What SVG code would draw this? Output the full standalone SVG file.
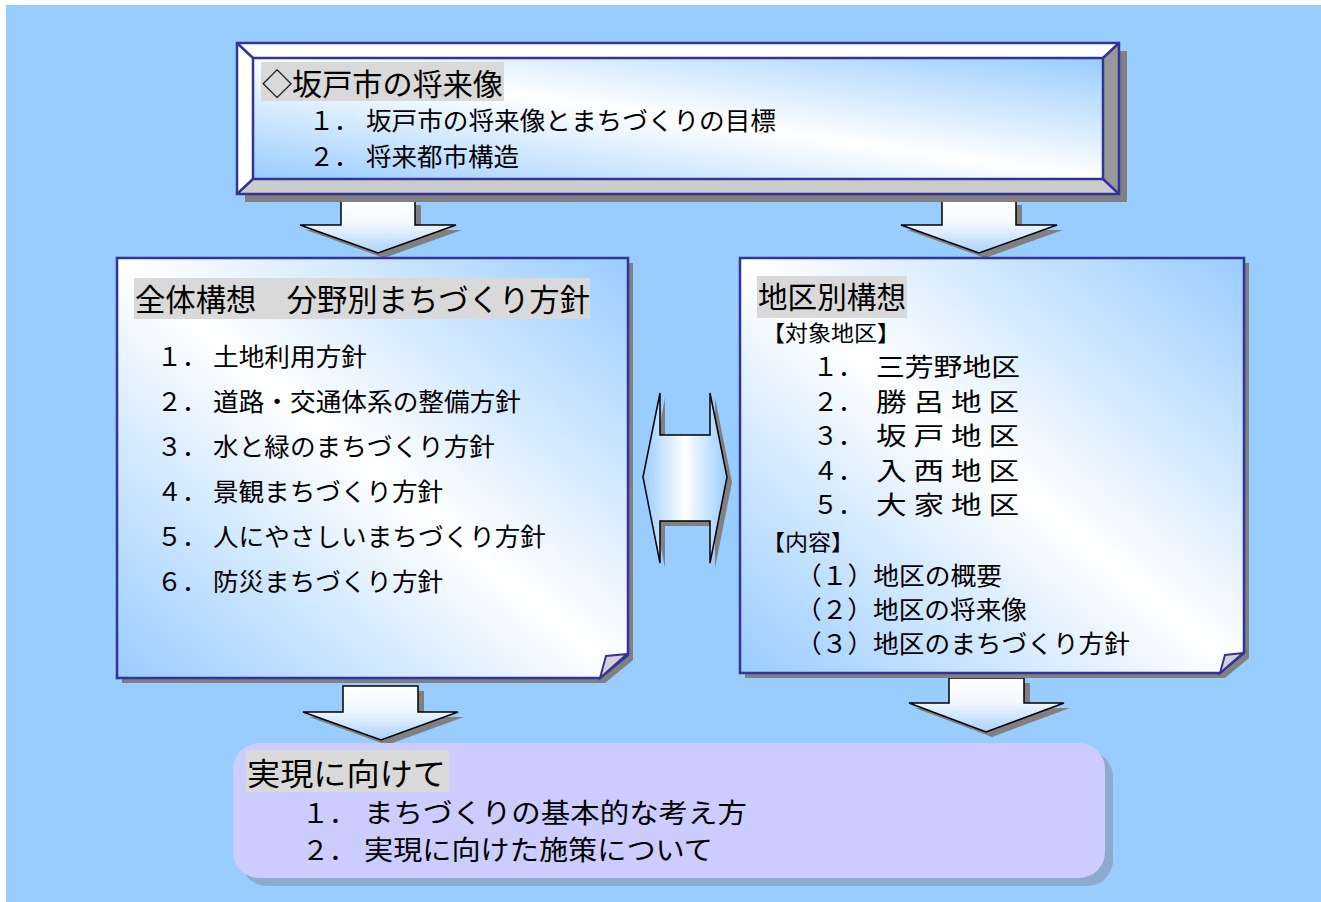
<svg xmlns="http://www.w3.org/2000/svg" width="1321" height="902" viewBox="0 0 1321 902">
<defs>
<linearGradient id="gFace" x1="0" y1="1" x2="1" y2="0">
<stop offset="0" stop-color="#99ccff"/>
<stop offset="0.5" stop-color="#ffffff"/>
<stop offset="1" stop-color="#99ccff"/>
</linearGradient>
<linearGradient id="gArrow" x1="0" y1="0" x2="0" y2="1">
<stop offset="0" stop-color="#ffffff"/>
<stop offset="0.45" stop-color="#f2f8ff"/>
<stop offset="1" stop-color="#a9d1fb"/>
</linearGradient>
<linearGradient id="gDouble" x1="0" y1="0" x2="1" y2="0">
<stop offset="0" stop-color="#99ccff"/>
<stop offset="0.5" stop-color="#ffffff"/>
<stop offset="1" stop-color="#99ccff"/>
</linearGradient>
<style>
text{font-family:"Noto Sans CJK JP","Noto Sans CJK SC",sans-serif;fill:#000}
.ttl{font-size:30px}
.it{font-size:25px}
.sm{font-size:22px}
.bt{font-size:27px}
.hl{fill:#d9d9d9}
.sh{fill:#808080}
.edge{fill:none;stroke:#333399;stroke-width:2.5;stroke-linejoin:miter}
.card{fill:url(#gFace);stroke:#333399;stroke-width:2.5}
.flap{fill:#d2d2dc;stroke:#333399;stroke-width:2}
.arr{fill:url(#gArrow);stroke:#000;stroke-width:1.5;stroke-linejoin:miter}
</style>
</defs>
<rect x="0" y="0" width="1321" height="902" fill="#ffffff"/>
<rect x="6" y="5" width="1315" height="897" fill="#99ccff"/>

<g id="connectors">
<g id="arrow-top-left">
<path class="sh" d="M347,205 H421 V230 H462 L384,258 L306,230 H347 Z"/>
<path class="arr" d="M341,200 H415 V225 H456 L378,253 L300,225 H341 Z"/>
</g>
<g id="arrow-top-right">
<path class="sh" d="M948,205 H1022 V230 H1063 L985,258 L907,230 H948 Z"/>
<path class="arr" d="M942,200 H1016 V225 H1057 L979,253 L901,225 H942 Z"/>
</g>
<g id="arrow-double">
<path class="sh" d="M648,482 L665,398 V440 H715 V398 L732,482 L715,568 V526 H665 V568 Z"/>
<path fill="url(#gDouble)" stroke="#000" stroke-width="1.5" d="M643,477 L660,393 V435 H710 V393 L727,477 L710,563 V521 H660 V563 Z"/>
</g>
<g id="arrow-bottom-left">
<path class="sh" d="M349,691 H424 V717 H464 L387,745 L309,717 H349 Z"/>
<path class="arr" d="M343,686 H418 V712 H458 L381,740 L303,712 H343 Z"/>
</g>
<g id="arrow-bottom-right">
<path class="sh" d="M955,683 H1030 V708 H1070 L992,737 L915,708 H955 Z"/>
<path class="arr" d="M949,678 H1024 V703 H1064 L986,732 L909,703 H949 Z"/>
</g>
</g>

<g id="node-top">
<rect class="sh" x="245" y="51" width="882" height="151"/>
<polygon fill="#ffffff" points="237,43 1119,43 1103,58 253,58"/>
<polygon fill="#ffffff" points="237,43 253,58 253,179 237,194"/>
<polygon fill="#999999" points="1119,43 1119,194 1103,179 1103,58"/>
<polygon fill="#cccccc" points="237,194 253,179 1103,179 1119,194"/>
<rect x="253" y="58" width="850" height="121" fill="url(#gFace)"/>
<rect class="edge" x="237" y="43" width="882" height="151"/>
<rect class="edge" x="253" y="58" width="850" height="121"/>
<path class="edge" d="M237,43 L253,58 M1119,43 L1103,58 M237,194 L253,179 M1119,194 L1103,179"/>
<rect class="hl" x="261" y="62" width="243" height="39"/>
<text class="ttl" x="262" y="95" textLength="241" lengthAdjust="spacingAndGlyphs">◇坂戸市の将来像</text>
<text class="it" x="309" y="130">１．</text>
<text class="it" x="366" y="130" textLength="410" lengthAdjust="spacingAndGlyphs">坂戸市の将来像とまちづくりの目標</text>
<text class="it" x="309" y="166">２．</text>
<text class="it" x="366" y="166" textLength="153" lengthAdjust="spacingAndGlyphs">将来都市構造</text>
</g>

<g id="node-left">
<path class="sh" d="M122,263 H633 V660 L605,683 H122 Z"/>
<path class="card" d="M117,258 H628 V655 L600,678 H117 Z"/>
<path class="flap" d="M600,678 L606,656 L627,654 Z"/>
<rect class="hl" x="134" y="278" width="456" height="41"/>
<text x="135" y="311" font-size="31" textLength="455" lengthAdjust="spacingAndGlyphs">全体構想　分野別まちづくり方針</text>
<text class="it" x="157" y="366">１．</text>
<text class="it" x="213" y="366" textLength="154" lengthAdjust="spacingAndGlyphs">土地利用方針</text>
<text class="it" x="157" y="411">２．</text>
<text class="it" x="213" y="411" textLength="308" lengthAdjust="spacingAndGlyphs">道路・交通体系の整備方針</text>
<text class="it" x="157" y="456">３．</text>
<text class="it" x="213" y="456" textLength="282" lengthAdjust="spacingAndGlyphs">水と緑のまちづくり方針</text>
<text class="it" x="157" y="501">４．</text>
<text class="it" x="213" y="501" textLength="230" lengthAdjust="spacingAndGlyphs">景観まちづくり方針</text>
<text class="it" x="157" y="546">５．</text>
<text class="it" x="213" y="546" textLength="333" lengthAdjust="spacingAndGlyphs">人にやさしいまちづくり方針</text>
<text class="it" x="157" y="591">６．</text>
<text class="it" x="213" y="591" textLength="230" lengthAdjust="spacingAndGlyphs">防災まちづくり方針</text>
</g>

<g id="node-right">
<path class="sh" d="M745,263 H1249 V658 L1225,678 H745 Z"/>
<path class="card" d="M740,258 H1244 V653 L1220,673 H740 Z"/>
<path class="flap" d="M1220,673 L1225,655 L1243,653 Z"/>
<rect class="hl" x="757" y="276" width="150" height="42"/>
<text class="ttl" x="758" y="308" textLength="148" lengthAdjust="spacingAndGlyphs">地区別構想</text>
<text class="sm" x="762" y="341" textLength="138" lengthAdjust="spacingAndGlyphs">【対象地区】</text>
<text class="it" x="813" y="376">１．</text>
<text class="it" x="876" y="376" textLength="144" lengthAdjust="spacingAndGlyphs">三芳野地区</text>
<text class="it" x="813" y="411">２．</text>
<text class="it" x="876" y="411" textLength="143" lengthAdjust="spacingAndGlyphs">勝 呂 地 区</text>
<text class="it" x="813" y="445">３．</text>
<text class="it" x="876" y="445" textLength="143" lengthAdjust="spacingAndGlyphs">坂 戸 地 区</text>
<text class="it" x="813" y="480">４．</text>
<text class="it" x="876" y="480" textLength="143" lengthAdjust="spacingAndGlyphs">入 西 地 区</text>
<text class="it" x="813" y="514">５．</text>
<text class="it" x="876" y="514" textLength="143" lengthAdjust="spacingAndGlyphs">大 家 地 区</text>
<text class="sm" x="762" y="550" textLength="92" lengthAdjust="spacingAndGlyphs">【内容】</text>
<text class="it" x="796" y="585" textLength="206" lengthAdjust="spacingAndGlyphs">（１）地区の概要</text>
<text class="it" x="796" y="619" textLength="231" lengthAdjust="spacingAndGlyphs">（２）地区の将来像</text>
<text class="it" x="796" y="653" textLength="334" lengthAdjust="spacingAndGlyphs">（３）地区のまちづくり方針</text>
</g>

<g id="node-bottom">
<rect x="241" y="751" width="872" height="135" rx="26" fill="#8eaacc"/>
<rect x="233" y="743" width="872" height="135" rx="26" fill="#ccccff"/>
<rect class="hl" x="246" y="750" width="203" height="42"/>
<text x="247" y="785" font-size="31" textLength="199" lengthAdjust="spacingAndGlyphs">実現に向けて</text>
<text class="bt" x="302" y="823">１．</text>
<text class="bt" x="364" y="823" textLength="383" lengthAdjust="spacingAndGlyphs">まちづくりの基本的な考え方</text>
<text class="bt" x="302" y="860">２．</text>
<text class="bt" x="364" y="860" textLength="349" lengthAdjust="spacingAndGlyphs">実現に向けた施策について</text>
</g>
</svg>
